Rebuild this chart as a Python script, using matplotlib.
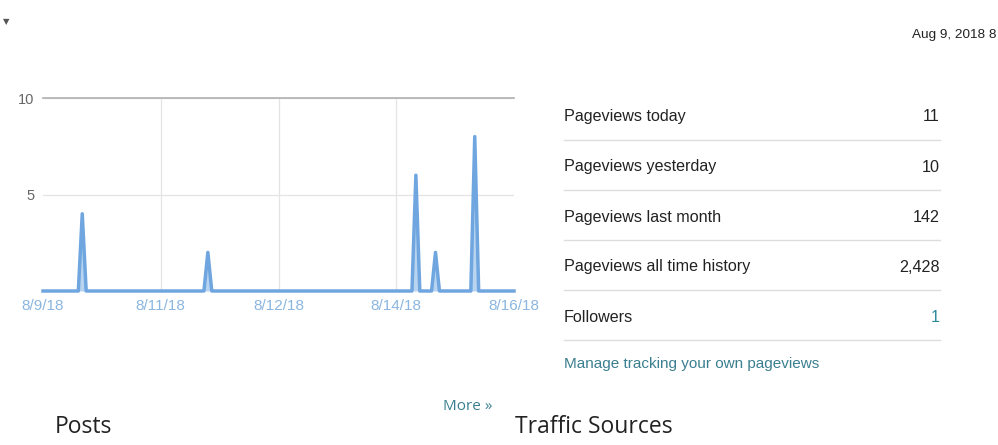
import matplotlib.pyplot as plt

# hourly pageviews (index = hour slot since 8/9/18), zeros between spikes
hours = [0, 9, 10, 11, 41, 42, 43, 94, 95, 96, 99, 100, 101, 109, 110, 111, 120]
views = [0, 0, 4, 0, 0, 2, 0, 0, 6, 0, 0, 2, 0, 0, 8, 0, 0]

tick_pos = [0, 30, 60, 90, 120]
tick_labels = ['8/9/18', '8/11/18', '8/12/18', '8/14/18', '8/16/18']

stat_names = ['Pageviews today', 'Pageviews yesterday', 'Pageviews last month',
              'Pageviews all time history', 'Followers']
stat_values = ['11', '10', '142', '2,428', '1']

W, H = 998, 445
fig = plt.figure(figsize=(W / 100, H / 100), dpi=100)
plt.rcParams['font.family'] = ['Liberation Sans', 'DejaVu Sans']

def fx(px):
    return px / W

def fy(py):
    return 1 - py / H

ax = fig.add_axes([fx(43), fy(291), fx(514) - fx(43), fy(98) - fy(291)])
ax.fill_between(hours, views, color='#b8d4f0', lw=0, zorder=2)
ax.plot(hours, views, color='#6fa6df', lw=2.5, solid_joinstyle='round', zorder=3, clip_on=False)
ax.set_xlim(0, 120)
ax.set_ylim(0, 10)

ax.set_yticks([5, 10])
ax.set_yticklabels(['5', '10'], color='#666666', fontsize=10.5)
ax.set_xticks(tick_pos)
ax.set_xticklabels(tick_labels, color='#8bb6df', fontsize=11)
ax.tick_params(length=0, pad=6)
ax.tick_params(axis='y', pad=6)
ax.grid(True, color='#e4e4e4', lw=0.9, zorder=0)
# no vertical grid at the outer edges
xgl = ax.get_xgridlines()
xgl[0].set_visible(False)
xgl[-1].set_visible(False)

for s in ['left', 'right', 'bottom']:
    ax.spines[s].set_visible(False)
ax.spines['top'].set_color('#b0b0b0')
ax.spines['top'].set_linewidth(1.2)

# stats table on the right
for i, (name, val) in enumerate(zip(stat_names, stat_values)):
    y = 115 + 50 * i
    fig.text(fx(564), fy(y + 2), name, fontsize=11.6, color='#222222', va='center', ha='left')
    vcol = '#2b8a9a' if name == 'Followers' else '#222222'
    fig.text(fx(940), fy(y + 2), val, fontsize=11.6, color=vcol, va='center', ha='right')
    fig.add_artist(plt.Line2D([fx(564), fx(940)], [fy(y + 25), fy(y + 25)],
                              color='#dddddd', lw=1))

fig.text(fx(564), fy(364), 'Manage tracking your own pageviews', fontsize=11,
         color='#3a7f8f', va='center', ha='left')

fig.text(fx(912), fy(35), 'Aug 9, 2018 8', fontsize=9.7, color='#222222',
         va='center', ha='left')
fig.text(fx(6), fy(22), '▼', fontsize=6, color='#555555', va='center', ha='center',
         family='DejaVu Sans')

fig.text(fx(443), fy(407), 'More »', fontsize=11, color='#3a7f8f', va='center',
         ha='left', family='Open Sans')
fig.text(fx(55), fy(427), 'Posts', fontsize=16.5, color='#222222', va='center',
         ha='left', family='Open Sans')
fig.text(fx(515), fy(427), 'Traffic Sources', fontsize=16.5, color='#222222', va='center',
         ha='left', family='Open Sans')

plt.savefig('out.png', dpi=100)
